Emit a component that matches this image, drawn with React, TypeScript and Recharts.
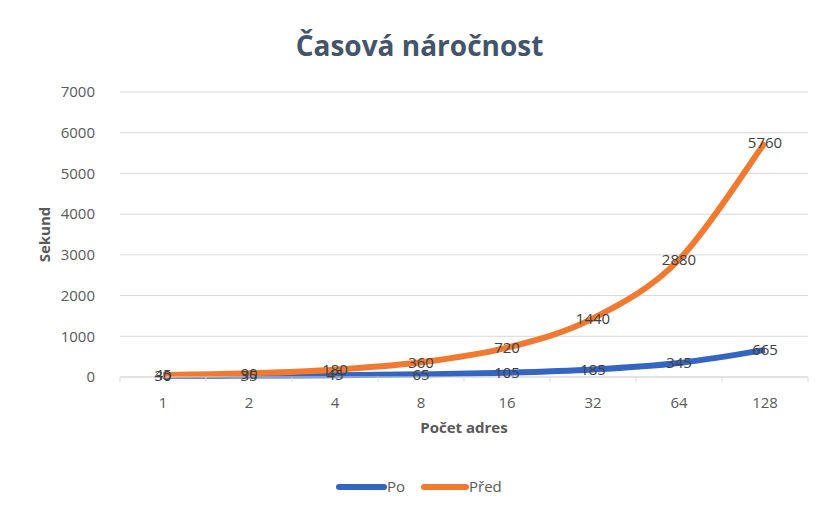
import React from "react";
import { LineChart, Line, XAxis, YAxis, CartesianGrid, Legend, LabelList } from "recharts";

const categories = ["1", "2", "4", "8", "16", "32", "64", "128"];
const poValues = [30, 35, 45, 65, 105, 185, 345, 665];
const predValues = [45, 90, 180, 360, 720, 1440, 2880, 5760];
const yTicks = [0, 1000, 2000, 3000, 4000, 5000, 6000, 7000];

const data = categories.map((c, i) => ({ cat: c, po: poValues[i], pred: predValues[i] }));

const W = 823;
const H = 515;
const FONT = "'Open Sans', 'Noto Sans', sans-serif";
const BLUE = "#3565C3";
const ORANGE = "#F27A30";
const TXT = "#595959";

const margin = { top: 92, right: 15, bottom: 82, left: 30 };
const yAxisWidth = 90;
const plotW = W - margin.left - margin.right - yAxisWidth;
const band = plotW / categories.length;

// Excel-like smoothed line (Catmull-Rom style Bezier)
const excelCurve = (context: any) => {
  let pts: number[][] = [];
  return {
    areaStart() {},
    areaEnd() {},
    lineStart() {
      pts = [];
    },
    point(x: number, y: number) {
      pts.push([+x, +y]);
    },
    lineEnd() {
      if (!pts.length) return;
      context.moveTo(pts[0][0], pts[0][1]);
      for (let i = 0; i < pts.length - 1; i++) {
        const p0 = pts[i - 1] || pts[i];
        const p1 = pts[i];
        const p2 = pts[i + 1];
        const p3 = pts[i + 2] || pts[i + 1];
        context.bezierCurveTo(
          p1[0] + (p2[0] - p0[0]) / 6,
          p1[1] + (p2[1] - p0[1]) / 6,
          p2[0] - (p3[0] - p1[0]) / 6,
          p2[1] - (p3[1] - p1[1]) / 6,
          p2[0],
          p2[1]
        );
      }
    },
  };
};

const XTick = (props: any) => {
  const { x, y, payload, index } = props;
  return (
    <g>
      <line x1={x - band / 2} y1={y} x2={x - band / 2} y2={y + 5} stroke="#d9d9d9" strokeWidth={1} />
      {index === categories.length - 1 && (
        <line x1={x + band / 2} y1={y} x2={x + band / 2} y2={y + 5} stroke="#d9d9d9" strokeWidth={1} />
      )}
      <text x={x} y={y + 31} textAnchor="middle" fill={TXT} fontSize={15} fontFamily={FONT}>
        {payload.value}
      </text>
    </g>
  );
};

const LegendContent = () => (
  <svg width={W} height={22}>
    <line x1={339} y1={11} x2={384} y2={11} stroke={BLUE} strokeWidth={6} strokeLinecap="round" />
    <text x={387} y={16} fill={TXT} fontSize={15} fontFamily={FONT}>Po</text>
    <line x1={424} y1={11} x2={466} y2={11} stroke={ORANGE} strokeWidth={6} strokeLinecap="round" />
    <text x={469} y={16} fill={TXT} fontSize={15} fontFamily={FONT}>Před</text>
  </svg>
);

export default function App() {
  return (
    <div style={{ position: "absolute", left: 0, top: 0, width: W, height: H, background: "#fff" }}>
      <div
        style={{
          position: "absolute",
          top: 25,
          left: 0,
          width: W,
          textAlign: "center",
          fontFamily: FONT,
          fontWeight: 700,
          fontSize: 28,
          lineHeight: "40px",
          color: "#44546A",
          paddingLeft: 16,
          boxSizing: "border-box",
        }}
      >
        Časová náročnost
      </div>
      <LineChart width={W} height={H} data={data} margin={margin}>
        <CartesianGrid vertical={false} stroke="#d9d9d9" strokeWidth={1} />
        <XAxis
          dataKey="cat"
          height={56}
          padding={{ left: band / 2, right: band / 2 }}
          tickSize={0}
          tickMargin={0}
          tickLine={false}
          axisLine={{ stroke: "#d9d9d9" }}
          tick={<XTick />}
          interval={0}
          label={{
            value: "Počet adres",
            position: "insideBottom",
            offset: 0,
            style: { fontFamily: FONT, fontSize: 15, fontWeight: 700, fill: TXT },
          }}
        />
        <YAxis
          width={yAxisWidth}
          domain={[0, 7000]}
          ticks={yTicks}
          axisLine={false}
          tickLine={false}
          tickMargin={19}
          tick={{ fill: TXT, fontSize: 15, fontFamily: FONT }}
          label={{
            value: "Sekund",
            angle: -90,
            position: "insideLeft",
            offset: 15,
            style: { textAnchor: "middle", fontFamily: FONT, fontSize: 15, fontWeight: 700, fill: TXT },
          }}
        />
        <Legend
          layout="horizontal"
          verticalAlign="middle"
          align="center"
          content={<LegendContent />}
          wrapperStyle={{ top: 476, left: 0, width: W }}
        />
        <Line
          type={excelCurve as any}
          dataKey="po"
          name="Po"
          stroke={BLUE}
          strokeWidth={6}
          dot={false}
          isAnimationActive={false}
        >
          <LabelList dataKey="po" position="center" fill="#404040" fontSize={15} fontFamily={FONT} />
        </Line>
        <Line
          type={excelCurve as any}
          dataKey="pred"
          name="Před"
          stroke={ORANGE}
          strokeWidth={6}
          dot={false}
          isAnimationActive={false}
        >
          <LabelList dataKey="pred" position="center" fill="#404040" fontSize={15} fontFamily={FONT} />
        </Line>
      </LineChart>
    </div>
  );
}
